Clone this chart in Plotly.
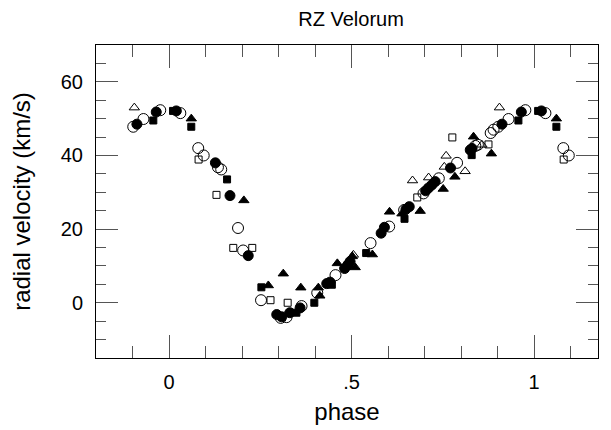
import plotly.graph_objects as go

# ---- data: phase (0..1) and radial velocity (km/s) per observation set ----
oc_phase = [0.031, 0.080, 0.095, 0.134, 0.143, 0.189, 0.203, 0.252, 0.306, 0.322,
            0.363, 0.406, 0.456, 0.552, 0.603, 0.644, 0.697, 0.739, 0.789, 0.839,
            0.846, 0.881, 0.889, 0.902, 0.930, 0.976]
oc_vel = [51.5, 42.0, 40.0, 36.8, 36.2, 20.3, 14.2, 0.7, -4.1, -3.9,
          -0.9, 2.7, 7.5, 16.2, 20.7, 25.2, 29.7, 33.8, 38.0, 42.6,
          42.9, 46.1, 47.0, 47.8, 49.9, 52.3]

fc_phase = [0.020, 0.127, 0.167, 0.217, 0.295, 0.308, 0.331, 0.359, 0.432, 0.441,
            0.481, 0.490, 0.496, 0.581, 0.590, 0.649, 0.658, 0.703, 0.711, 0.720,
            0.729, 0.771, 0.825, 0.830, 0.912, 0.965]
fc_vel = [52.1, 38.0, 29.1, 12.8, -3.2, -3.8, -2.7, -1.4, 5.2, 5.6,
          9.3, 10.3, 11.2, 18.9, 20.5, 25.4, 26.1, 30.4, 31.2, 32.0,
          32.9, 36.6, 41.5, 41.9, 48.5, 51.8]

os_phase = [0.081, 0.130, 0.176, 0.228, 0.278, 0.325, 0.680, 0.776, 0.875]
os_vel = [38.9, 29.3, 14.9, 14.9, 0.7, 0.0, 28.6, 44.9, 43.0]

fs_phase = [0.011, 0.061, 0.159, 0.253, 0.349, 0.398, 0.446, 0.540, 0.645, 0.829, 0.957]
fs_vel = [52.1, 47.8, 33.5, 4.2, -2.7, 0.0, 4.9, 13.5, 22.8, 40.1, 49.5]

ot_phase = [0.505, 0.667, 0.711, 0.754, 0.759, 0.811, 0.857, 0.905]
ot_vel = [13.0, 33.2, 34.0, 36.9, 39.9, 35.7, 42.9, 53.0]

ft_phase = [0.061, 0.205, 0.272, 0.313, 0.361, 0.409, 0.413, 0.461, 0.482, 0.502,
            0.510, 0.557, 0.604, 0.638, 0.688, 0.751, 0.783, 0.834, 0.883]
ft_vel = [50.0, 27.8, 4.7, 7.9, 4.1, 4.1, 1.9, 10.7, 10.0, 12.6,
          9.6, 13.1, 24.7, 24.2, 24.9, 30.9, 34.2, 45.1, 40.5]

x_tickvals = [0, 0.5, 1]
x_ticktext = ["0", ".5", "1"]
y_tickvals = [0, 20, 40, 60]


def wrap(ph, v):
    """Repeat observations within 0.1 of the phase boundaries (phase +/- 1)."""
    xs, ys = list(ph), list(v)
    for p, y in zip(ph, v):
        if p < 0.1:
            xs.append(p + 1)
            ys.append(y)
        if p > 0.9:
            xs.append(p - 1)
            ys.append(y)
    return xs, ys


series = [
    (oc_phase, oc_vel, "circle-open", 11),
    (fc_phase, fc_vel, "circle", 10),
    (os_phase, os_vel, "square-open", 7),
    (fs_phase, fs_vel, "square", 7),
    (ot_phase, ot_vel, "triangle-up-open", 9),
    (ft_phase, ft_vel, "triangle-up", 9),
]

fig = go.Figure()
for ph, v, sym, sz in series:
    xs, ys = wrap(ph, v)
    fig.add_trace(go.Scatter(
        x=xs, y=ys, mode="markers", showlegend=False,
        marker=dict(symbol=sym, size=sz, color="black",
                    line=dict(color="black", width=1)),
    ))

FONT = "Liberation Sans, Arial, Helvetica, sans-serif"
fig.update_layout(
    width=603, height=422,
    paper_bgcolor="white", plot_bgcolor="white",
    margin=dict(l=88, r=13, t=37, b=72),
    font=dict(family=FONT, size=20, color="black"),
    title=dict(text="RZ Velorum", x=0.569, xanchor="center", y=0.975, yanchor="middle",
               font=dict(size=20)),
)
fig.update_xaxes(
    range=[-0.2, 1.175], automargin=False,
    tickmode="array", tickvals=x_tickvals, ticktext=x_ticktext,
    ticks="inside", ticklen=23, tickwidth=1, tickcolor="#555",
    minor=dict(tickmode="linear", tick0=0, dtick=0.1, ticks="inside",
               ticklen=12, tickwidth=1, tickcolor="#555"),
    showline=True, linecolor="black", linewidth=1, mirror="ticks",
    showgrid=False, zeroline=False, ticklabelstandoff=6,
    title=dict(text="phase", standoff=11),
)
fig.update_yaxes(
    range=[-15, 70], automargin=False,
    tickmode="array", tickvals=y_tickvals,
    ticks="inside", ticklen=22, tickwidth=1, tickcolor="#555",
    minor=dict(tickmode="linear", tick0=0, dtick=5, ticks="inside",
               ticklen=10, tickwidth=1, tickcolor="#555"),
    showline=True, linecolor="black", linewidth=1, mirror="ticks",
    showgrid=False, zeroline=False, ticklabelstandoff=8,
    title=dict(text="radial velocity (km/s)", standoff=30),
)

fig.write_html("out.html")
